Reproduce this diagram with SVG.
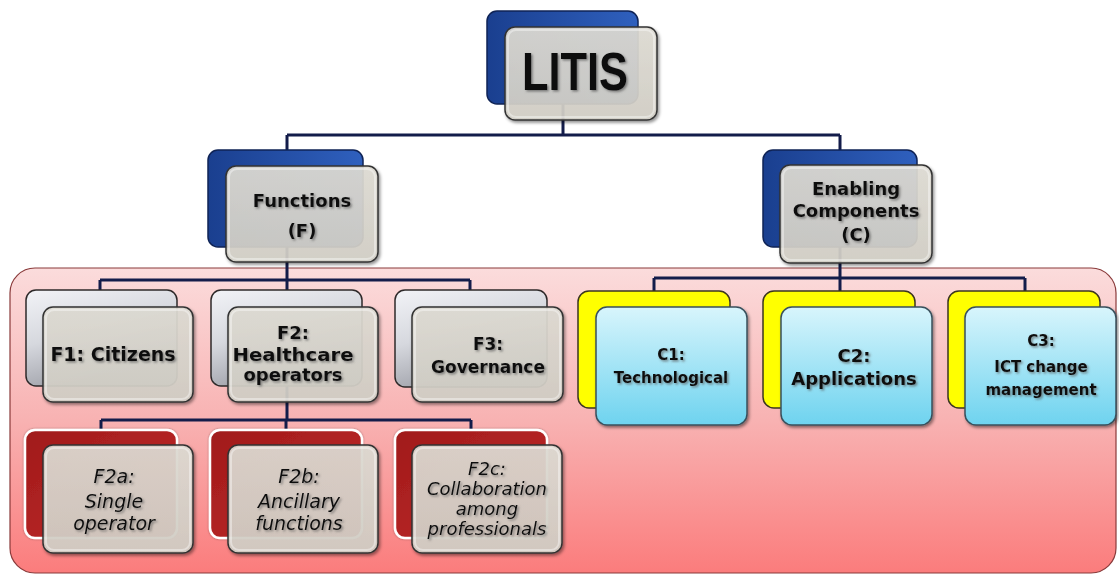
<svg xmlns="http://www.w3.org/2000/svg" width="1119" height="576" viewBox="0 0 1119 576">
<style>
.blue{fill:url(#blueG);stroke:#0f2355;stroke-width:1.5}
.grayb{fill:url(#grayG);stroke:#2e2a2a;stroke-width:1.5}
.front{fill:url(#frontG);fill-opacity:.9;stroke:#333;stroke-width:1.5;filter:url(#sh)}
.rim{fill:none;stroke:#fff;stroke-opacity:.4;stroke-width:2}
.redb{fill:url(#redG);stroke:#fff;stroke-width:2.5;filter:url(#sh2)}
.yel{fill:#ffff00;stroke:#3b3520;stroke-width:1.5}
.cyan{fill:url(#cyanG);stroke:#38505c;stroke-width:1.5;filter:url(#sh)}
.conn{stroke:#131c4a;stroke-width:3;fill:none}
.t{font-family:"DejaVu Sans",Verdana,sans-serif;font-weight:bold;fill:#111;text-anchor:middle;filter:url(#ts)}
.i{font-family:"DejaVu Sans",Verdana,sans-serif;font-style:italic;fill:#111;text-anchor:middle;filter:url(#ts)}
</style>
<defs>
<linearGradient id="blueG" x1="0" y1="0" x2="1" y2="0"><stop offset="0" stop-color="#1a3f8f"/><stop offset="1" stop-color="#2f60be"/></linearGradient>
<linearGradient id="grayG" x1="0" y1="0" x2="0.4" y2="1"><stop offset="0" stop-color="#f2f3f7"/><stop offset="0.5" stop-color="#d6d8de"/><stop offset="1" stop-color="#9c9ea6"/></linearGradient>
<linearGradient id="frontG" x1="0" y1="0" x2="0" y2="1"><stop offset="0" stop-color="#e0ddd5"/><stop offset="1" stop-color="#d3d0c7"/></linearGradient>
<linearGradient id="redG" x1="0" y1="0" x2="1" y2="1"><stop offset="0" stop-color="#a01b1b"/><stop offset="1" stop-color="#c22a2a"/></linearGradient>
<linearGradient id="cyanG" x1="0" y1="0" x2="0" y2="1"><stop offset="0" stop-color="#d8f5fc"/><stop offset="1" stop-color="#6ed3ef"/></linearGradient>
<linearGradient id="pinkG" x1="0" y1="0" x2="0" y2="1"><stop offset="0" stop-color="#fbdcdc"/><stop offset="0.5" stop-color="#f8b2b2"/><stop offset="1" stop-color="#fb7c7c"/></linearGradient>
<filter id="sh" x="-10%" y="-10%" width="125%" height="130%"><feDropShadow dx="1.5" dy="2" stdDeviation="1.5" flood-color="#000" flood-opacity="0.45"/></filter>
<filter id="sh2" x="-10%" y="-10%" width="125%" height="130%"><feDropShadow dx="0" dy="0" stdDeviation="1" flood-color="#000" flood-opacity="0.35"/></filter>
<filter id="ts" x="-10%" y="-20%" width="125%" height="150%"><feDropShadow dx="1.5" dy="1.5" stdDeviation="1.2" flood-color="#555" flood-opacity="0.7"/></filter>
</defs>
<rect width="1119" height="576" fill="#fff"/>
<rect id="panel" x="10" y="268" width="1106" height="305" rx="25" fill="url(#pinkG)" stroke="#8a3a3a" stroke-width="1.2"/>
<g id="connectors">
<path class="conn" d="M563,100 V135 M287,135 H840 M287,135 V150 M840,135 V150"/>
<path class="conn" d="M287,240 V280 M100,280 H470 M100,280 V290 M287,280 V290 M470,280 V290"/>
<path class="conn" d="M840,240 V278 M654,278 H1025 M654,278 V291 M840,278 V291 M1025,278 V291"/>
<path class="conn" d="M287,380 V420 M101,420 H471 M101,420 V430 M286,420 V430 M471,420 V430"/>
</g>
<g id="litis">
<rect class="blue" x="487" y="11" width="151" height="93" rx="10"/>
<rect class="front" x="505" y="27" width="152" height="93" rx="10"/>
<rect class="rim" x="508" y="30" width="146" height="87" rx="8"/>
<text class="t" x="575" y="90" font-size="54" textLength="106" lengthAdjust="spacingAndGlyphs" style="font-family:'Liberation Sans',Arial,sans-serif">LITIS</text>
</g>
<g id="functions">
<rect class="blue" x="208" y="150" width="155" height="97" rx="10"/>
<rect class="front" x="226" y="166" width="152" height="96" rx="10"/>
<rect class="rim" x="229" y="169" width="146" height="90" rx="8"/>
<text class="t" x="302" y="207" font-size="18">Functions</text>
<text class="t" x="302" y="237" font-size="18">(F)</text>
</g>
<g id="enabling">
<rect class="blue" x="763" y="150" width="154" height="97" rx="10"/>
<rect class="front" x="780" y="165" width="152" height="98" rx="10"/>
<rect class="rim" x="783" y="168" width="146" height="92" rx="8"/>
<text class="t" x="856" y="195" font-size="18">Enabling</text>
<text class="t" x="856" y="217" font-size="18">Components</text>
<text class="t" x="856" y="241" font-size="18">(C)</text>
</g>
<g id="f1">
<rect class="grayb" x="26" y="290" width="151" height="96" rx="10"/>
<rect class="front" x="43" y="307" width="150" height="95" rx="10"/>
<rect class="rim" x="46" y="310" width="144" height="89" rx="8"/>
<text class="t" x="113" y="361" font-size="19">F1: Citizens</text>
</g>
<g id="f2">
<rect class="grayb" x="211" y="290" width="151" height="96" rx="10"/>
<rect class="front" x="228" y="307" width="150" height="95" rx="10"/>
<rect class="rim" x="231" y="310" width="144" height="89" rx="8"/>
<text class="t" x="293" y="339" font-size="18">F2:</text>
<text class="t" x="293" y="361" font-size="18" textLength="121" lengthAdjust="spacingAndGlyphs">Healthcare</text>
<text class="t" x="293" y="381" font-size="18">operators</text>
</g>
<g id="f3">
<rect class="grayb" x="395" y="290" width="152" height="97" rx="10"/>
<rect class="front" x="412" y="307" width="151" height="95" rx="10"/>
<rect class="rim" x="415" y="310" width="145" height="89" rx="8"/>
<text class="t" x="488" y="350" font-size="17">F3:</text>
<text class="t" x="488" y="373" font-size="17">Governance</text>
</g>
<g id="c1">
<rect class="yel" x="578" y="291" width="152" height="117" rx="11"/>
<rect class="cyan" x="596" y="307" width="151" height="118" rx="11"/>
<text class="t" x="671" y="360" font-size="15">C1:</text>
<text class="t" x="671" y="383" font-size="15">Technological</text>
</g>
<g id="c2">
<rect class="yel" x="763" y="291" width="152" height="117" rx="11"/>
<rect class="cyan" x="781" y="307" width="151" height="118" rx="11"/>
<text class="t" x="854" y="362" font-size="18">C2:</text>
<text class="t" x="854" y="385" font-size="18">Applications</text>
</g>
<g id="c3">
<rect class="yel" x="948" y="291" width="152" height="117" rx="11"/>
<rect class="cyan" x="965" y="307" width="151" height="118" rx="11"/>
<text class="t" x="1041" y="346" font-size="15">C3:</text>
<text class="t" x="1041" y="372" font-size="15">ICT change</text>
<text class="t" x="1041" y="395" font-size="15">management</text>
</g>
<g id="f2a">
<rect class="redb" x="25" y="430" width="152" height="108" rx="10"/>
<rect class="front" x="43" y="445" width="150" height="108" rx="10"/>
<rect class="rim" x="46" y="448" width="144" height="102" rx="8"/>
<text class="i" x="114" y="483" font-size="19">F2a:</text>
<text class="i" x="114" y="508" font-size="19">Single</text>
<text class="i" x="114" y="530" font-size="19">operator</text>
</g>
<g id="f2b">
<rect class="redb" x="210" y="430" width="152" height="108" rx="10"/>
<rect class="front" x="228" y="445" width="150" height="108" rx="10"/>
<rect class="rim" x="231" y="448" width="144" height="102" rx="8"/>
<text class="i" x="299" y="483" font-size="19">F2b:</text>
<text class="i" x="299" y="508" font-size="19">Ancillary</text>
<text class="i" x="299" y="530" font-size="19">functions</text>
</g>
<g id="f2c">
<rect class="redb" x="395" y="430" width="152" height="108" rx="10"/>
<rect class="front" x="412" y="445" width="150" height="108" rx="10"/>
<rect class="rim" x="415" y="448" width="144" height="102" rx="8"/>
<text class="i" x="487" y="475" font-size="18">F2c:</text>
<text class="i" x="487" y="495" font-size="18">Collaboration</text>
<text class="i" x="487" y="515" font-size="18">among</text>
<text class="i" x="487" y="535" font-size="18">professionals</text>
</g>
</svg>
